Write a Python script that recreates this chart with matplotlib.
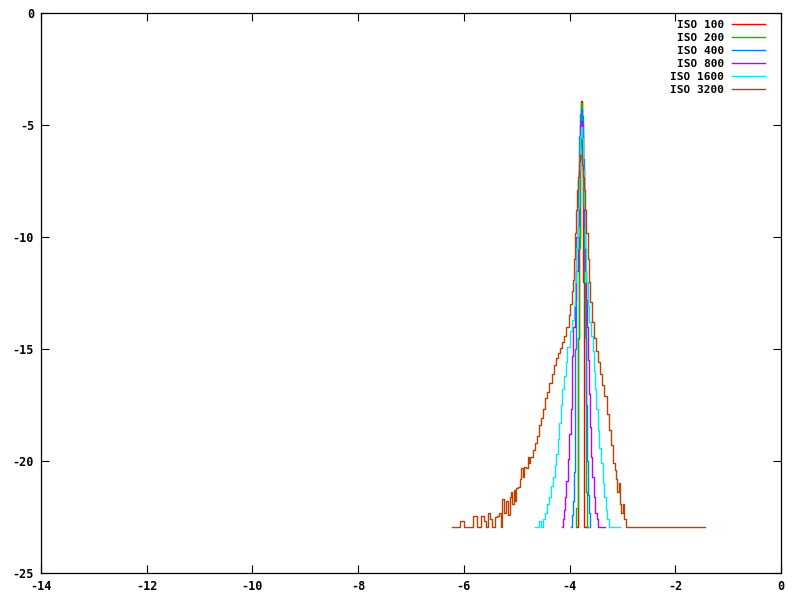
import matplotlib
matplotlib.use("Agg")
import matplotlib.pyplot as plt

labels = ["ISO 100", "ISO 200", "ISO 400", "ISO 800", "ISO 1600", "ISO 3200"]
colors = ["#ff0000", "#00c000", "#0080ff", "#c000ff", "#00eeee", "#c04000"]

# ISO 100
x100 = [-3.86, -3.84, -3.82, -3.80, -3.78, -3.76, -3.74, -3.72, -3.66]
y100 = [-22.95, -14.50, -10.00, -6.00, -3.93, -6.50, -12.00, -22.95, -22.95]

# ISO 200
x200 = [-3.88, -3.86, -3.84, -3.82, -3.80, -3.78, -3.76, -3.74, -3.72, -3.70, -3.68, -3.66]
y200 = [-22.95, -22.10, -14.50, -10.50, -6.00, -4.00, -5.00, -8.50, -12.00, -14.50, -21.40, -22.95]

# ISO 400
x400 = [-3.97, -3.95, -3.93, -3.91, -3.90, -3.89, -3.88, -3.86, -3.84, -3.82, -3.80,
        -3.78, -3.76, -3.74, -3.72, -3.70, -3.69, -3.68, -3.67, -3.65, -3.63, -3.61]
y400 = [-22.95, -22.40, -21.80, -20.50, -18.00, -15.00, -12.50, -10.00, -7.50, -5.50, -4.50,
        -4.30, -4.60, -6.50, -9.00, -11.50, -14.50, -17.50, -20.00, -21.50, -22.30, -22.95]

# ISO 800
x800 = [-4.14, -4.12, -4.10, -4.08, -4.05, -4.02, -3.99, -3.97, -3.95, -3.94, -3.92,
        -3.89, -3.86, -3.84, -3.82, -3.80, -3.78, -3.76, -3.74, -3.72, -3.70, -3.68,
        -3.66, -3.64, -3.62, -3.60, -3.58, -3.56, -3.53, -3.50, -3.47, -3.44, -3.33]
y800 = [-22.95, -22.60, -22.20, -21.60, -20.90, -19.90, -18.80, -17.70, -16.60, -15.30, -14.00,
        -12.80, -11.50, -9.50, -7.00, -5.00, -4.80, -5.40, -7.00, -9.50, -11.50, -12.80,
        -14.00, -15.50, -17.00, -18.50, -19.80, -20.70, -21.60, -22.30, -22.60, -22.95, -22.95]

# ISO 1600
x1600 = [-4.66, -4.60, -4.57, -4.53, -4.49, -4.45, -4.41, -4.37, -4.33, -4.30, -4.27,
         -4.24, -4.21, -4.18, -4.15, -4.12, -4.09, -4.06, -4.02, -3.98, -3.94, -3.91,
         -3.88, -3.86, -3.84, -3.82, -3.80, -3.78, -3.76, -3.74, -3.72, -3.70, -3.67,
         -3.64, -3.61, -3.58, -3.55, -3.53, -3.51, -3.48, -3.45, -3.42, -3.39, -3.36,
         -3.33, -3.30, -3.27, -3.24, -3.05]
y1600 = [-22.95, -22.95, -22.70, -22.95, -22.60, -22.30, -21.90, -21.60, -21.10, -20.70, -20.20,
         -19.70, -19.00, -18.30, -17.50, -16.80, -16.20, -15.60, -14.90, -14.20, -13.70, -13.10,
         -12.00, -10.50, -8.70, -7.00, -5.50, -5.10, -5.60, -7.00, -8.70, -10.50, -12.00,
         -13.10, -13.80, -14.40, -15.10, -16.00, -16.80, -17.70, -18.60, -19.40, -20.10, -21.00,
         -21.60, -22.20, -22.60, -22.95, -22.95]

# ISO 3200
x3200 = [-6.22, -6.10, -6.04, -5.95, -5.85, -5.79, -5.72, -5.64, -5.60, -5.56, -5.52,
         -5.48, -5.44, -5.40, -5.36, -5.32, -5.28, -5.26, -5.22, -5.18, -5.14, -5.12, -5.10,
         -5.07, -5.04, -5.02, -5.00, -4.96, -4.92, -4.90, -4.88, -4.84, -4.80, -4.78, -4.76, -4.72, -4.68,
         -4.64, -4.60, -4.56, -4.52, -4.48, -4.44, -4.40, -4.36, -4.32, -4.28, -4.24,
         -4.20, -4.16, -4.12, -4.08, -4.04, -4.00, -3.97, -3.95, -3.93, -3.91, -3.89,
         -3.87, -3.85, -3.83, -3.81, -3.79, -3.77, -3.75, -3.73, -3.71, -3.69, -3.67,
         -3.65, -3.63, -3.60, -3.56, -3.52, -3.48, -3.44, -3.40, -3.36, -3.32, -3.28,
         -3.24, -3.20, -3.16, -3.14, -3.12, -3.08, -3.06, -3.04, -3.00, -2.98, -2.96, -2.92, -1.44]
y3200 = [-22.95, -22.95, -22.70, -22.95, -22.95, -22.45, -22.95, -22.45, -22.70, -22.95, -22.30,
         -22.60, -22.95, -22.50, -22.45, -22.30, -22.95, -21.70, -22.30, -21.80, -22.40, -21.60, -21.40,
         -21.90, -21.30, -21.80, -21.20, -21.15, -20.80, -20.30, -20.70, -20.25, -20.30, -19.80, -20.10, -19.80, -19.50,
         -19.20, -18.90, -18.40, -18.10, -17.70, -17.20, -16.90, -16.50, -16.10, -15.70, -15.40,
         -15.20, -14.95, -14.70, -14.40, -14.00, -13.50, -13.00, -12.40, -11.90, -11.00, -9.80,
         -8.80, -7.90, -7.30, -6.60, -6.34, -6.40, -6.80, -7.30, -7.90, -8.80, -9.80,
         -11.00, -12.00, -12.90, -13.80, -14.50, -15.10, -15.60, -16.10, -16.60, -17.10, -17.90,
         -18.60, -19.30, -20.10, -20.40, -20.80, -21.40, -21.00, -21.90, -22.30, -21.90, -22.60, -22.95, -22.95]

series_x = [x100, x200, x400, x800, x1600, x3200]
series_y = [y100, y200, y400, y800, y1600, y3200]

xticks = [-14, -12, -10, -8, -6, -4, -2, 0]
yticks = [-25, -20, -15, -10, -5, 0]

mono = ["DejaVu Sans Mono"]

fig = plt.figure(figsize=(8, 6), dpi=100)
ax = fig.add_axes([41 / 800, 27 / 600, 740 / 800, 560 / 600])

for xs, ys, c, lab in zip(series_x, series_y, colors, labels):
    ax.plot(xs, ys, drawstyle="steps-mid", color=c, lw=1.0, label=lab)

ax.set_xlim(-14, 0)
ax.set_ylim(-25, 0)
ax.set_xticks(xticks)
ax.set_yticks(yticks)
ax.set_xticklabels([str(t) for t in xticks], family=mono, fontweight="bold", fontsize=8.5)
ax.set_yticklabels([str(t) for t in yticks], family=mono, fontweight="bold", fontsize=8.5)
ax.tick_params(direction="in", length=6, width=0.8, top=True, right=True, pad=5, color="black")
for s in ax.spines.values():
    s.set_linewidth(0.9)
    s.set_color("black")

leg = ax.legend(loc="upper right", frameon=False, markerfirst=False,
                prop={"family": mono, "weight": "bold", "size": 8},
                handlelength=3.0, handletextpad=0.7, labelspacing=0.27,
                borderaxespad=0.0, borderpad=0.0,
                bbox_to_anchor=(765 / 740 - 41 / 740, 1 - 7 / 560))
for t in leg.get_texts():
    t.set_ha("right")
leg._legend_box.align = "right"
for h in leg.get_lines():
    h.set_linewidth(1.0)

fig.savefig("out.png", dpi=100)
